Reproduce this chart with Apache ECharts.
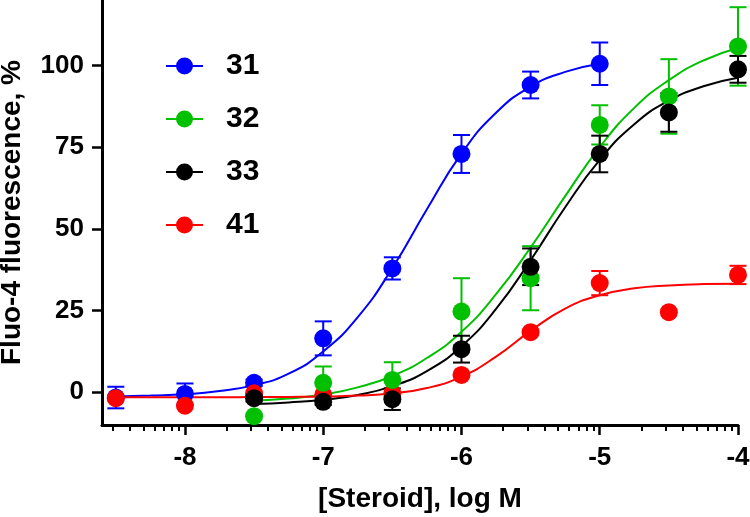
<!DOCTYPE html>
<html><head><meta charset="utf-8">
<script src="https://cdn.jsdelivr.net/npm/echarts@6/dist/echarts.min.js"></script>
<style>html,body{margin:0;padding:0;background:#fff}#c{width:750px;height:517px}</style>
</head><body><div id="c"></div>
<script>
// ---- data ----
const legendNames = ['31', '32', '33', '41'];

const x31 = [-8.5, -8, -7.5, -7, -6.5, -6, -5.5, -5];
const y31 = [-1.6, -0.5, 2.9, 16.5, 37.9, 72.9, 94.0, 100.5];
const e31 = [3.3, 3.2, 1.0, 5.2, 3.4, 5.8, 4.1, 6.5];

const x32 = [-7.5, -7, -6.5, -6, -5.5, -5, -4.5, -4];
const y32 = [-7.3, 2.9, 3.8, 24.7, 34.9, 81.8, 90.5, 105.8];
const e32 = [0, 5.0, 5.4, 10.2, 9.8, 6.0, 11.4, 12.0];

const x33 = [-7.5, -7, -6.5, -6, -5.5, -5, -4.5, -4];
const y33 = [-1.8, -2.9, -2.1, 13.2, 38.4, 72.9, 85.6, 98.8];
const e33 = [1.0, 1.0, 3.3, 4.1, 5.6, 5.6, 5.9, 4.1];

const x41 = [-8.5, -8, -7.5, -7, -6.5, -6, -5.5, -5, -4.5, -4];
const y41 = [-1.8, -4.1, -0.3, -0.8, -0.3, 5.3, 18.4, 33.4, 24.5, 35.9];
const e41 = [0, 0, 0, 0, 0, 0, 0, 3.7, 0, 2.8];

// fitted curves
const fit31X = [-8.5, -8.25, -8, -7.75, -7.5, -7.25, -7, -6.75, -6.5, -6.25, -6, -5.75, -5.5, -5.25, -5];
const fit31Y = [-1.3, -1.0, -0.6, 0.4, 2.2, 5.7, 12.5, 23, 38, 56, 73, 85.5, 93.5, 98, 100.5];

const fit32X = [-7.5, -7.25, -7, -6.75, -6.5, -6.25, -6, -5.75, -5.5, -5.25, -5, -4.75, -4.5, -4.25, -4];
const fit32Y = [-2.6, -1.9, -0.7, 1.5, 5, 10.5, 18.5, 30, 44.3, 60, 75, 87, 95.5, 101.5, 105.3];

const fit33X = [-7.5, -7.25, -7, -6.75, -6.5, -6.25, -6, -5.75, -5.5, -5.25, -5, -4.75, -4.5, -4.25, -4];
const fit33Y = [-3.6, -3.1, -2.3, -0.8, 1.9, 6.5, 14.1, 25.5, 40.4, 56.6, 71.1, 82, 89.2, 93.6, 96.2];

const fit41X = [-8.5, -8.25, -8, -7.75, -7.5, -7.25, -7, -6.75, -6.5, -6.25, -6, -5.75, -5.5, -5.25, -5, -4.75, -4.5, -4.25, -4];
const fit41Y = [-1.5, -1.5, -1.5, -1.5, -1.45, -1.4, -1.3, -1.0, -0.3, 1.3, 4.8, 10.9, 18.8, 25.6, 29.7, 31.8, 32.7, 33.1, 33.2];

const xTickValues = [-8, -7, -6, -5, -4];
const xTickLabels = ['-8', '-7', '-6', '-5', '-4'];
const yTickValues = [0, 25, 50, 75, 100];
const yTickLabels = ['0', '25', '50', '75', '100'];
const minorMultipliers = [2, 3, 4, 5, 6, 7, 8, 9];
const minorDecades = [-9, -8, -7, -6, -5];

const xName = '[Steroid], log M';
const yName = 'Fluo-4 fluorescence, %';

// ---- build ----
const FONT = 'Liberation Sans';
const XMIN = -8.6, XMAX = -4, YMIN = -10, YMAX = 120;
const colors = { '31': '#0000ff', '32': '#00c000', '33': '#000000', '41': '#ff0000' };

const minorTicks = [];
minorDecades.forEach(d => minorMultipliers.forEach(m => {
  const v = d + Math.log10(m);
  if (v >= XMIN && v <= XMAX) minorTicks.push(v);
}));

const legendIcon = 'path://M0,7.5h37v2h-37z M10,8.5a8.5,8.5 0 1,1 17,0a8.5,8.5 0 1,1 -17,0z';

function pairs(xs, ys) { return xs.map((v, i) => [v, ys[i]]); }
function triples(xs, ys, es) { return xs.map((v, i) => [v, ys[i], es[i]]); }

function errRender(color) {
  return function (params, api) {
    const x = api.value(0), y = api.value(1), e = api.value(2);
    if (!e) return { type: 'group', children: [] };
    const t = api.coord([x, y + e]), b = api.coord([x, y - e]);
    const w = 8.5;
    const st = { stroke: color, lineWidth: 2, fill: null };
    return {
      type: 'group', children: [
        { type: 'line', shape: { x1: t[0], y1: t[1], x2: b[0], y2: b[1] }, style: st },
        { type: 'line', shape: { x1: t[0] - w, y1: t[1], x2: t[0] + w, y2: t[1] }, style: st },
        { type: 'line', shape: { x1: b[0] - w, y1: b[1], x2: b[0] + w, y2: b[1] }, style: st }
      ]
    };
  };
}

const sets = {
  '31': { x: x31, y: y31, e: e31, fx: fit31X, fy: fit31Y },
  '32': { x: x32, y: y32, e: e32, fx: fit32X, fy: fit32Y },
  '33': { x: x33, y: y33, e: e33, fx: fit33X, fy: fit33Y },
  '41': { x: x41, y: y41, e: e41, fx: fit41X, fy: fit41Y }
};

const series = [];
['31', '32', '33', '41'].forEach(k => {
  series.push({
    type: 'line', name: k + ' fit', data: pairs(sets[k].fx, sets[k].fy),
    smooth: 0.5, showSymbol: false, symbol: 'none',
    lineStyle: { color: colors[k], width: 2 }, silent: true, z: 2
  });
});
['31', '41', '32', '33'].forEach(k => {
  series.push({
    type: 'custom', name: k + ' err', data: triples(sets[k].x, sets[k].y, sets[k].e),
    renderItem: errRender(colors[k]), encode: { x: 0, y: 1 }, silent: true, z: 3
  });
  series.push({
    type: 'scatter', name: k, data: pairs(sets[k].x, sets[k].y),
    symbol: 'circle', symbolSize: 18, itemStyle: { color: colors[k], opacity: 1 }, z: 3
  });
});

const labelFont = { color: '#000', fontFamily: FONT, fontWeight: 'bold' };

const option = {
  animation: false,
  backgroundColor: '#fff',
  grid: { left: 102, right: 12, top: 0, bottom: 92, containLabel: false, outerBoundsMode: 'none' },
  legend: {
    orient: 'vertical', left: 166, top: 51, padding: 0, itemWidth: 37, itemHeight: 17, itemGap: 23,
    selectedMode: false,
    data: legendNames.map(n => ({ name: n, icon: legendIcon })),
    textStyle: { fontSize: 30, fontWeight: 'bold', fontFamily: FONT, color: '#000', padding: [0, 0, 0, 18] }
  },
  xAxis: [
    {
      type: 'value', min: XMIN, max: XMAX, position: 'bottom',
      axisLine: { show: true, onZero: false, lineStyle: { color: '#000', width: 3 } },
      axisTick: { show: true, customValues: minorTicks, length: 6, lineStyle: { color: '#000', width: 2 } },
      axisLabel: { show: false },
      splitLine: { show: false }
    },
    {
      type: 'value', min: XMIN, max: XMAX, position: 'bottom',
      axisLine: { show: false, onZero: false },
      axisTick: { show: true, customValues: xTickValues, length: 10, lineStyle: { color: '#000', width: 2.5 } },
      axisLabel: Object.assign({ show: true, customValues: xTickValues, fontSize: 26, margin: 20,
        formatter: v => xTickLabels[xTickValues.indexOf(v)] ?? String(v) }, labelFont),
      splitLine: { show: false },
      name: xName, nameLocation: 'middle', nameGap: 60,
      nameTextStyle: { fontSize: 28, fontWeight: 'bold', fontFamily: FONT, color: '#000' }
    }
  ],
  yAxis: {
    type: 'value', min: YMIN, max: YMAX,
    axisLine: { show: true, onZero: false, lineStyle: { color: '#000', width: 3 } },
    axisTick: { show: true, customValues: yTickValues, length: 10, lineStyle: { color: '#000', width: 2.5 } },
    axisLabel: Object.assign({ show: true, customValues: yTickValues, fontSize: 26, margin: 18,
      formatter: v => yTickLabels[yTickValues.indexOf(v)] ?? String(v) }, labelFont),
    splitLine: { show: false },
    name: yName, nameLocation: 'middle', nameGap: 76,
    nameTextStyle: { fontSize: 28, fontWeight: 'bold', fontFamily: FONT, color: '#000' }
  },
  series: series
};

const chart = echarts.init(document.getElementById('c'), null, { renderer: 'canvas' });
chart.setOption(option);
</script>
</body></html>
